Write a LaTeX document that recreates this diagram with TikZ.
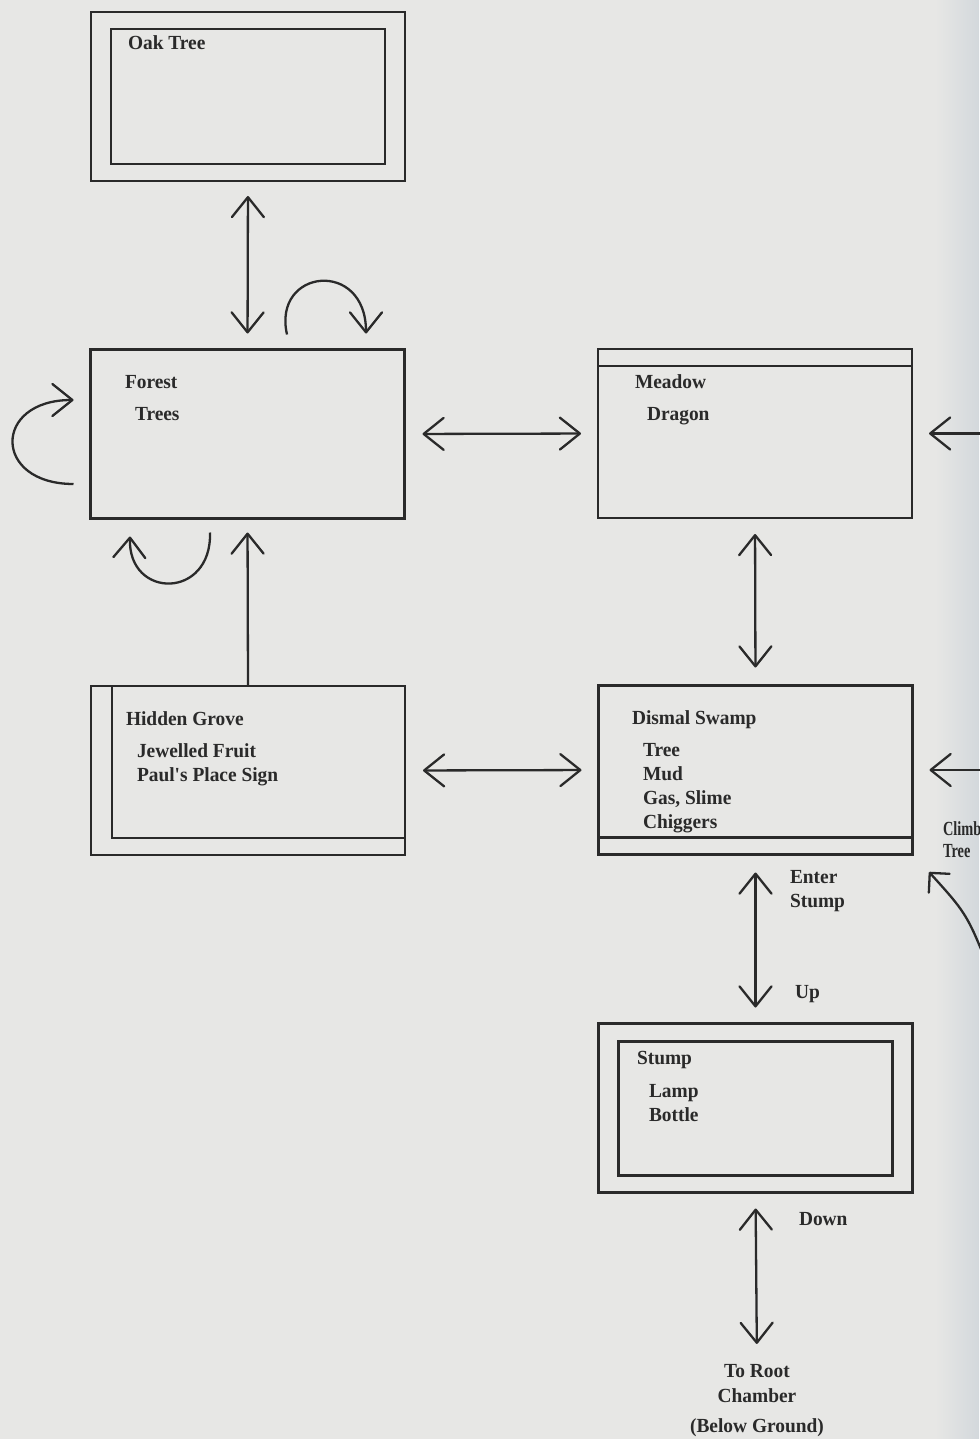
\documentclass[tikz,border=0pt]{standalone}
\usepackage{fontspec}
\setmainfont{Liberation Serif}
\newfontfamily\mapfont{Liberation Serif}[FakeStretch=0.97]
\usetikzlibrary{arrows.meta}
\definecolor{paper}{HTML}{E7E7E5}
\definecolor{edgetone}{HTML}{D3D8DC}
\definecolor{ink}{HTML}{2A2A2A}

\begin{document}
\begin{tikzpicture}[x=0.5pt, y=-0.5pt,
  every node/.style={inner sep=0pt, outer sep=0pt},
  room/.style={draw=ink, line width=1.3pt, rectangle,
               minimum width=157pt, minimum height=84.5pt},
  rim/.style={draw=ink, line width=1.3pt},
  txt/.style={text=ink, font=\mapfont\bfseries\fontsize{10pt}{12pt}\selectfont, anchor=base west},
  ctxt/.style={txt, anchor=base},
  link/.style={draw=ink, line width=1.15pt},
  arr/.style={link, -{Straight Barb[length=10pt,width=16pt,round]}},
  dbl/.style={link, {Straight Barb[length=10pt,width=16pt,round]}-{Straight Barb[length=10pt,width=16pt,round]}},
  wide arr/.style={link, -{Straight Barb[length=7pt,width=14pt,round]}}
]
% page
\useasboundingbox (0,0) rectangle (979,1439);
\fill[paper] (0,0) rectangle (979,1439);
\shade[left color=paper, right color=edgetone] (935,0) rectangle (979,1439);

% rooms
\node[room] (oak)    at (248,96.5)  {};
\node[room] (forest) at (247.5,434) {};
\node[room] (meadow) at (755,433.5) {};
\node[room] (grove)  at (248,770.5) {};
\node[room] (swamp)  at (755.5,770) {};
\node[room] (stump)  at (755.5,1108) {};

% inner borders
\draw[rim] ([xshift=10pt,yshift=-8.5pt]oak.north west) rectangle ([xshift=-10pt,yshift=8.5pt]oak.south east);
\draw[rim] ([xshift=10pt,yshift=-9pt]stump.north west) rectangle ([xshift=-10pt,yshift=8.5pt]stump.south east);
\draw[rim] ([yshift=-8.5pt]meadow.north west) -- ([yshift=-8.5pt]meadow.north east);
\draw[rim] ([yshift=8.5pt]swamp.south west) -- ([yshift=8.5pt]swamp.south east);
\draw[rim] ([xshift=10.5pt]grove.north west) -- ([xshift=10.5pt,yshift=8.5pt]grove.south west)
           -- ([yshift=8.5pt]grove.south east);

% room texts
\node[txt] (oakName)    at (128,50)  {Oak Tree};
\node[txt] (forestName) at (125,388) {Forest};
\node[txt] (forestA)    at (135,420) {Trees};
\node[txt] (meadowName) at (635,388) {Meadow};
\node[txt] (meadowA)    at (647,420) {Dragon};
\node[txt] (groveName)  at (126,725) {Hidden Grove};
\node[txt] (groveA)     at (137,757) {Jewelled Fruit};
\node[txt] (groveB)     at (137,781) {Paul's Place Sign};
\node[txt] (swampName)  at (632,724) {Dismal Swamp};
\node[txt] (swampA)     at (643,756) {Tree};
\node[txt] (swampB)     at (643,780) {Mud};
\node[txt] (swampC)     at (643,804) {Gas, Slime};
\node[txt] (swampD)     at (643,828) {Chiggers};
\node[txt] (stumpName)  at (637,1064) {Stump};
\node[txt] (stumpA)     at (649,1097) {Lamp};
\node[txt] (stumpB)     at (649,1121) {Bottle};

% passage labels
\node[txt] (enterA) at (790,883) {Enter};
\node[txt] (enterB) at (790,907) {Stump};
\node[txt] (upLbl)  at (795,998) {Up};
\node[txt] (downLbl) at (799,1225) {Down};
\node[ctxt] (rootA) at (757,1377) {To Root};
\node[ctxt] (rootB) at (757,1402) {Chamber};
\node[ctxt] (rootC) at (757,1432) {(Below Ground)};
\node[txt] (climbA) at (943,835) {\scalebox{0.74}[1]{Climb}};
\node[txt] (climbB) at (943,857) {\scalebox{0.74}[1]{Tree}};

% passages between rooms
\draw[dbl, shorten <=7.5pt, shorten >=8pt] (oak.south) -- (forest.north);
\draw[dbl, shorten <=9pt, shorten >=8.5pt] (forest.east) -- (meadow.west);
\draw[dbl, shorten <=9pt, shorten >=8.5pt] (grove.east) -- (swamp.west);
\draw[dbl, shorten <=8pt, shorten >=9pt] (meadow.south) -- (swamp.north);
\draw[dbl, shorten <=9pt, shorten >=8pt] (swamp.south) -- (stump.north);
\draw[dbl, shorten <=8pt, shorten >=10pt] (stump.south) -- (rootA.north);
\draw[arr, shorten >=7pt] (grove.north) -- (forest.south);

% ways in from the east
\coordinate (eastA) at (1010,433.5);
\coordinate (eastB) at (1010,770);
\draw[arr, shorten >=8.5pt] (eastA) -- (meadow.east);
\draw[arr, shorten >=8.5pt] (eastB) -- (swamp.east);
\coordinate (climbFoot) at (995,985);
\coordinate (climbTip) at (929,872);
\draw[wide arr] (climbFoot) .. controls (968,915) .. (climbTip);

% forest loops
\draw[arr] ([shift={(39.5,-15)}]forest.north) .. controls ([shift={(24.5,-81)}]forest.north)
      and ([shift={(118.5,-91)}]forest.north) .. ([shift={(118.5,-16)}]forest.north);
\draw[arr] ([shift={(-37.5,14)}]forest.south) .. controls ([shift={(-35.5,81)}]forest.south)
      and ([shift={(-119.5,81)}]forest.south) .. ([shift={(-117.5,18)}]forest.south);
\draw[arr] ([shift={(-17,50)}]forest.west) .. controls ([shift={(-98,50)}]forest.west)
      and ([shift={(-98,-34)}]forest.west) .. ([shift={(-17,-34)}]forest.west);
\end{tikzpicture}
\end{document}
